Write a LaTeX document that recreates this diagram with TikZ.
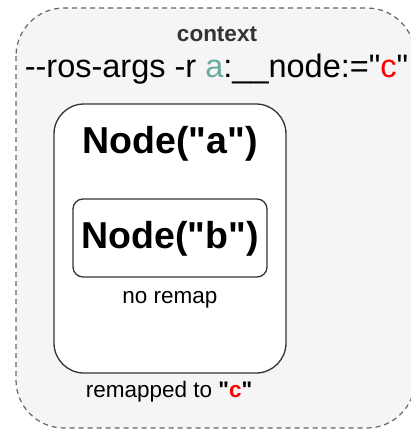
\documentclass[tikz,border=0pt]{standalone}
\usepackage{fontspec}
\setmainfont{Liberation Sans}[Ligatures=TeXOff]
\definecolor{ctxfill}{HTML}{F5F5F5}
\definecolor{ctxline}{HTML}{666666}
\definecolor{tealc}{HTML}{67AB9F}
\definecolor{redc}{HTML}{FF0000}
\definecolor{boxline}{HTML}{333333}
\tikzset{
  ctxbox/.style={draw=ctxline, fill=ctxfill, line width=1.2pt, rounded corners=48pt, dash pattern=on 5pt off 4pt},
  outerbox/.style={draw=boxline, fill=white, line width=1.3pt, rounded corners=30pt},
  innerbox/.style={draw=boxline, fill=white, line width=1.3pt, rounded corners=10pt},
  lbl/.style={inner sep=0pt, anchor=base, font=\fontsize{22.5}{26}\selectfont},
  big/.style={inner sep=0pt, anchor=base, font=\fontsize{37.5}{42}\selectfont\bfseries},
}
\begin{document}
\begin{tikzpicture}[x=1pt,y=-1pt]
\useasboundingbox (0,0) rectangle (411,429);
\clip (0,0) rectangle (411,429);
\draw[ctxbox] (16,8) rectangle (415,428);
\node[lbl, font=\fontsize{22.5}{26}\selectfont\bfseries, text=boxline] (ctx) at (217,41) {context};
\node[lbl, font=\fontsize{32.5}{38}\selectfont] (args) at (216.5,77) {--ros-args -r \textcolor{tealc}{a}:\_\_node:="\textcolor{redc}{c}"};
\draw[outerbox] (54,104) rectangle (286,373);
\node[big] (na) at (170,153) {Node("a")};
\draw[innerbox] (73,199) rectangle (267,277);
\node[big] (nb) at (170,248) {Node("b")};
\node[lbl] (nr) at (170,303) {no remap};
\node[lbl] (rm) at (169,397) {remapped to \textbf{"\textcolor{redc}{c}"}};
\end{tikzpicture}
\end{document}
